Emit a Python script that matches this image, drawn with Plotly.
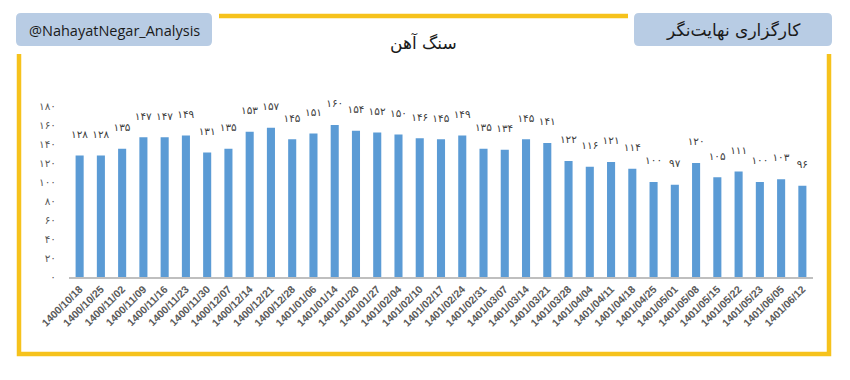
import plotly.graph_objects as go

dates = ["1400/10/18","1400/10/25","1400/11/02","1400/11/09","1400/11/16","1400/11/23","1400/11/30",
         "1400/12/07","1400/12/14","1400/12/21","1400/12/28","1401/01/06","1401/01/14","1401/01/20",
         "1401/01/27","1401/02/04","1401/02/10","1401/02/17","1401/02/24","1401/02/31","1401/03/07",
         "1401/03/14","1401/03/21","1401/03/28","1401/04/04","1401/04/11","1401/04/18","1401/04/25",
         "1401/05/01","1401/05/08","1401/05/15","1401/05/22","1401/05/23","1401/06/05","1401/06/12"]
values = [128,128,135,147,147,149,131,135,153,157,145,151,160,154,152,150,146,145,149,135,134,145,141,
          122,116,121,114,100,97,120,105,111,100,103,96]
y_ticks = [0,20,40,60,80,100,120,140,160,180]

title_text = "سنگ آهن"
left_box_text = "@NahayatNegar_Analysis"
right_box_text = "کارگزاری نهایت‌نگر"

FA = str.maketrans("0123456789", "۰۱۲۳۴۵۶۷۸۹")
def fa(n):
    return str(n).translate(FA)

W, H = 850, 380
ML, MR, MT, MB = 69, 37, 106, 103
PW, PH = W - ML - MR, H - MT - MB

def px(x):
    return (x - ML) / PW
def py(y):
    return (H - MB - y) / PH

def rounded_path(x0, y0, x1, y1, r):
    pts = (f"M {px(x0+r)} {py(y0)} L {px(x1-r)} {py(y0)} Q {px(x1)} {py(y0)} {px(x1)} {py(y0+r)} "
           f"L {px(x1)} {py(y1-r)} Q {px(x1)} {py(y1)} {px(x1-r)} {py(y1)} "
           f"L {px(x0+r)} {py(y1)} Q {px(x0)} {py(y1)} {px(x0)} {py(y1-r)} "
           f"L {px(x0)} {py(y0+r)} Q {px(x0)} {py(y0)} {px(x0+r)} {py(y0)} Z")
    return pts

fig = go.Figure()
fig.add_trace(go.Bar(
    x=dates, y=values,
    marker=dict(color="#5B9BD5", line=dict(width=0)),
    text=[fa(v) + "<br><span style='font-size:5px'> </span>" for v in values], textposition="outside",
    textfont=dict(size=10.5, color="#404040", family="DejaVu Sans"),
    constraintext="none",
    cliponaxis=False,
))

gold = "#F6C21C"
shapes = [
    dict(type="line", xref="paper", yref="paper", x0=px(219), x1=px(628), y0=py(16), y1=py(16),
         line=dict(color=gold, width=4.5)),
    dict(type="path", xref="paper", yref="paper",
         path=f"M {px(19)} {py(54)} L {px(19)} {py(354)} L {px(829)} {py(354)} L {px(829)} {py(54)}",
         line=dict(color=gold, width=4.5)),
    dict(type="path", xref="paper", yref="paper", path=rounded_path(16, 13, 212, 46, 5),
         fillcolor="#B8CCE4", line=dict(width=0), layer="above"),
    dict(type="path", xref="paper", yref="paper", path=rounded_path(634, 13, 832, 46, 5),
         fillcolor="#B8CCE4", line=dict(width=0), layer="above"),
]

annotations = [
    dict(text=left_box_text, xref="paper", yref="paper", x=px(114), y=py(30), showarrow=False,
         font=dict(size=14.5, color="#1a1a1a", family="Open Sans"), xanchor="center", yanchor="middle"),
    dict(text=right_box_text, xref="paper", yref="paper", x=px(733), y=py(30), showarrow=False,
         font=dict(size=17, color="#1a1a1a", family="DejaVu Sans"), xanchor="center", yanchor="middle"),
    dict(text=title_text, xref="paper", yref="paper", x=px(423), y=py(42), showarrow=False,
         font=dict(size=17, color="#1a1a1a", family="DejaVu Sans"), xanchor="center", yanchor="middle"),
]

fig.update_layout(
    width=W, height=H, margin=dict(l=ML, r=MR, t=MT, b=MB),
    paper_bgcolor="white", plot_bgcolor="white",
    bargap=0.62, showlegend=False,
    shapes=shapes, annotations=annotations,
    xaxis=dict(type="category", tickangle=-45, showgrid=False, showline=True, linecolor="#BFBFBF",
               linewidth=2, ticks="", tickfont=dict(size=10.5, color="#595959", family="Liberation Sans"),
               ticklabelstandoff=0),
    yaxis=dict(range=[0, 180], tickvals=y_ticks, ticktext=[fa(v) for v in y_ticks], showgrid=False,
               zeroline=False, showline=False, ticks="", ticklabelstandoff=12,
               tickfont=dict(size=10.5, color="#595959", family="DejaVu Sans")),
)
fig.update_xaxes(tickprefix="<b>", ticksuffix="</b>")

fig.write_html("out.html")
